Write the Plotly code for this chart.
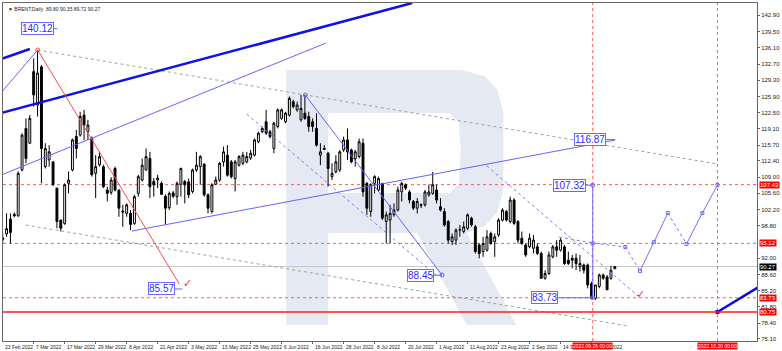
import plotly.graph_objects as go

# ---------------- data ----------------
bar_index = list(range(159))
open_ = [95.9,97.1,100.2,101.2,100.9,110.5,119.2,116.1,131.1,124.1,132.1,111.2,112.6,112.2,106.7,100.0,99.3,107.7,110.5,117.5,
         117.8,122.0,118.5,117.1,109.8,111.6,111.2,106.3,105.8,110.8,106.3,101.9,101.4,101.4,99.3,105.6,108.4,110.5,112.9,108.1,
         108.4,107.7,105.0,102.6,105.7,104.9,107.5,108.1,108.0,106.0,110.5,111.2,111.7,105.3,101.8,107.5,108.4,112.2,113.6,112.2,
         108.7,111.5,111.9,112.2,113.0,113.6,116.4,118.5,120.6,118.5,115.0,119.6,121.3,120.6,122.0,124.8,123.1,121.0,122.4,121.7,
         120.6,119.2,113.6,114.8,114.0,109.1,110.1,110.5,114.7,116.8,114.7,112.9,113.3,116.1,107.7,101.8,107.7,106.3,107.7,99.7,
         100.0,101.1,102.1,105.9,107.4,105.9,103.9,102.5,103.1,103.2,105.3,105.6,106.3,102.8,101.8,99.7,95.5,95.8,97.9,97.6,
         98.3,100.4,98.6,94.8,93.4,93.7,97.2,95.5,96.9,100.0,101.8,99.7,104.2,99.7,96.2,94.8,94.4,94.1,94.4,93.0,
         87.8,88.8,92.3,94.4,93.7,94.4,91.6,92.0,92.0,90.2,90.6,90.6,86.7,83.6,86.1,88.5,88.1,87.8,89.80]
high_ = [97.3,101.4,101.4,101.6,110.2,118.2,121.3,122.0,133.9,135.6,132.5,116.1,115.7,112.2,106.7,100.0,107.7,110.2,117.1,118.9,
         122.7,123.1,121.0,117.5,113.6,114.3,111.6,107.0,109.0,111.2,106.4,103.2,103.5,102.1,105.3,109.5,112.9,115.0,114.3,108.8,
         109.5,108.1,105.4,106.0,106.1,108.1,111.0,108.4,108.7,110.8,114.3,113.6,111.9,105.6,107.7,109.1,112.2,115.4,115.7,112.6,
         112.6,113.6,114.3,114.3,114.7,117.1,118.5,119.6,123.1,118.9,120.6,123.4,123.4,122.7,125.9,125.2,124.8,126.2,126.2,122.7,
         121.3,122.4,116.1,115.7,114.3,111.9,113.6,114.7,117.5,119.2,115.0,114.7,117.1,117.1,108.0,107.7,109.4,109.1,107.7,101.8,
         103.2,103.5,107.0,108.0,107.7,106.3,104.2,104.6,103.5,106.3,107.4,110.1,107.4,104.6,102.5,100.0,97.2,98.3,99.0,99.7,
         101.4,100.7,99.0,95.1,96.5,97.9,97.6,97.2,100.4,102.5,102.1,104.9,104.6,100.0,97.6,95.1,97.2,96.9,95.1,93.4,
         89.5,93.4,94.8,95.8,96.2,94.8,93.4,92.7,93.0,92.7,90.9,90.9,87.1,86.4,88.8,88.8,88.5,90.4,90.35]
low_ = [95.1,96.5,95.1,100.6,100.7,110.2,111.9,116.0,123.8,121.7,107.7,110.8,111.2,107.2,98.3,97.6,99.0,105.6,110.2,112.9,
        117.5,116.8,116.8,109.1,104.6,111.2,106.7,103.9,105.3,106.0,100.7,98.6,100.7,97.9,99.0,104.9,108.1,110.4,104.6,104.9,
        106.7,105.3,99.1,102.1,104.6,103.2,104.9,103.5,104.6,105.6,110.1,107.4,104.9,101.4,101.4,107.4,108.0,111.2,109.1,108.7,
        106.0,111.2,111.5,111.9,112.6,113.3,116.1,118.2,117.8,117.1,114.0,119.2,121.0,120.3,121.7,123.4,122.7,120.6,121.0,118.5,
        118.5,115.4,111.5,114.7,107.0,108.4,109.8,110.1,114.3,112.6,111.9,111.2,112.9,104.9,101.1,100.7,105.6,105.9,100.0,95.1,
        95.1,100.7,101.8,103.9,106.3,103.5,102.1,101.4,102.5,102.8,104.9,105.3,103.5,101.8,98.6,95.1,94.8,94.8,96.5,97.2,
        97.9,98.6,93.0,92.0,92.3,93.4,94.8,92.3,96.5,99.7,99.7,99.3,99.0,95.1,94.8,92.3,94.1,93.0,92.7,87.8,
        87.5,88.5,92.0,92.3,93.4,90.6,90.6,89.9,89.5,89.2,88.8,85.7,83.4,83.3,85.7,87.5,85.4,87.5,89.72]
close_ = [96.3,98.2,97.4,100.9,109.8,117.8,112.9,121.3,126.2,130.8,115.0,115.0,114.3,107.4,99.7,98.3,107.4,108.4,116.8,115.0,
          121.7,119.9,119.9,109.5,111.2,113.3,107.0,105.6,108.4,106.3,102.5,101.7,103.2,99.1,104.9,109.1,111.5,113.3,107.0,107.4,
          108.8,105.4,102.5,105.6,105.0,107.7,110.8,107.4,105.3,110.5,111.5,113.3,105.3,102.5,107.4,108.4,111.9,114.3,109.4,109.1,
          112.2,113.3,113.6,113.3,114.0,116.8,118.2,119.2,118.2,117.5,120.3,123.1,123.1,122.4,125.5,123.8,124.1,123.4,121.3,119.6,
          119.6,115.7,114.3,115.0,110.8,109.8,112.2,114.3,116.8,114.3,112.2,114.3,116.4,105.9,102.5,107.4,109.1,108.7,100.4,101.1,
          101.4,102.1,106.3,107.7,106.7,104.2,102.5,103.9,103.2,105.9,105.9,107.4,104.2,102.1,99.0,95.8,96.5,97.9,98.0,98.6,
          101.1,99.0,93.4,93.0,95.1,96.5,95.1,96.5,100.0,102.1,100.0,104.2,99.3,95.8,95.1,92.7,96.2,95.8,93.0,87.8,
          88.8,92.7,94.4,93.7,95.8,90.9,90.9,91.6,90.9,90.9,89.5,86.4,83.6,86.4,88.5,87.8,85.4,89.5,90.27]

tick_bars = [0, 8, 16, 24, 32, 40, 48, 56, 64, 72, 80, 88, 96, 104, 112, 120, 128, 136, 144, 152]
tick_labels = ["23 Feb 2022", "7 Mar 2022", "17 Mar 2022", "29 Mar 2022", "8 Apr 2022", "21 Apr 2022",
               "3 May 2022", "13 May 2022", "25 May 2022", "6 Jun 2022", "16 Jun 2022", "28 Jun 2022",
               "8 Jul 2022", "20 Jul 2022", "1 Aug 2022", "11 Aug 2022", "23 Aug 2022", "2 Sep 2022",
               "14 Sep 2022", "26 Sep 2022"]
y_ticks = [142.90, 139.50, 136.10, 132.70, 129.30, 125.90, 122.50, 119.10, 115.70, 112.40, 109.00,
           105.60, 102.20, 98.80, 92.00, 88.60, 85.20, 81.80, 78.40, 75.10]

red_dotted_levels = [107.43, 95.12, 83.73]
red_solid_level = 80.75
last_price = 90.27
vline_bars = [152.3, 184.5]
vline_labels = ["2022.09.26 00:00", "2022.10.20 00:00"]

# analysis drawings (bar index, price)
thick_lines = [([-0.5, 7.0], [133.7, 135.85]), ([-0.5, 105.7], [122.4, 145.48])]
thin_lines = [([-0.5, 9.03], [126.6, 135.63]), ([-0.5, 83.45], [109.4, 137.1]),
              ([33.3, 158.1], [97.7, 116.78]), ([78.1, 113.4], [126.2, 88.49])]
red_line = ([9.03, 45.6], [135.63, 86.61])
gray_dotted = [([9.03, 184.5], [135.63, 111.75]), ([5.96, 161.5], [98.97, 77.81])]
dashed_blue = [([63.0, 112.1], [122.2, 88.28]), ([124.9, 164.0], [111.4, 84.1]),
               ([143.6, 152.3, 160.7], [96.45, 95.2, 94.36])]
forecast_bars = [160.7, 164.5, 168.1, 171.7, 176.5, 180.6, 184.5]
forecast_prices = [94.36, 89.33, 95.41, 101.48, 94.99, 101.48, 107.35]
target_bar = 152.3
target_prices = [107.32, 95.12, 83.73]
future_bar_line = ([184.5, 196.0], [80.75, 86.4])

labels = [("140.12", 8.9, 140.12, 14.1), ("85.57", 41.1, 85.57, 46.4), ("88.45", 107.9, 88.45, 113.4),
          ("116.87", 151.6, 116.87, 158.1), ("107.32", 146.4, 107.32, 152.3), ("83.73", 139.9, 83.73, 152.3)]
checks = [(47.6, 86.8), (164.5, 84.5)]

# ---------------- figure ----------------
W, H = 782, 351
L, R, T, B = 2, 19, 3, 10
X_RANGE = [0.08, 194.7]
Y_RANGE = [74.67, 145.48]

def px(x, y):
    return (x - L) / (W - L - R), 1 - (y - T) / (H - T - B)

fig = go.Figure()

# watermark "R"
wm = "#e4e9f3"
def path(points):
    s = ""
    for i, (x, y) in enumerate(points):
        xx, yy = px(x, y)
        s += ("M" if i == 0 else "L") + f"{xx:.4f},{yy:.4f} "
    return s + "Z"

fig.add_shape(type="path", xref="paper", yref="paper", layer="below", line_width=0, fillcolor=wm,
              path=path([(288, 70), (465, 70), (488, 76), (501, 90), (507, 112), (507, 190), (501, 212),
                         (488, 226), (470, 233), (470, 233), (520, 325), (470, 325), (420, 233), (330, 233),
                         (330, 325), (288, 325)]))
fig.add_shape(type="path", xref="paper", yref="paper", layer="below", line_width=0, fillcolor="white",
              path=path([(330, 113), (453, 113), (462, 122), (464, 150), (462, 184), (453, 193), (330, 193)]))

# levels
for lv in red_dotted_levels:
    fig.add_hline(y=lv, line=dict(color="#ff5a5a", width=1, dash="dot"), layer="below")
fig.add_hline(y=last_price, line=dict(color="#c8c8c8", width=1), layer="below")
for vb in vline_bars:
    fig.add_vline(x=vb, line=dict(color="#ff5a5a", width=1, dash="dot"), layer="below")

# drawings under candles
for xs, ys in gray_dotted:
    fig.add_trace(go.Scatter(x=xs, y=ys, mode="lines", line=dict(color="#9aa59a", width=1, dash="dot"),
                             hoverinfo="skip", showlegend=False))
for xs, ys in dashed_blue:
    fig.add_trace(go.Scatter(x=xs, y=ys, mode="lines", line=dict(color="#7b7bff", width=1, dash="dot"),
                             hoverinfo="skip", showlegend=False))

# candles
fig.add_trace(go.Candlestick(x=bar_index, open=open_, high=high_, low=low_, close=close_,
                             increasing=dict(line=dict(color="#000000", width=1), fillcolor="#ffffff"),
                             decreasing=dict(line=dict(color="#000000", width=1), fillcolor="#000000"),
                             whiskerwidth=0, showlegend=False, hoverinfo="skip"))

fig.add_hline(y=red_solid_level, line=dict(color="#ff1a1a", width=1.5))

for xs, ys in thick_lines:
    fig.add_trace(go.Scatter(x=xs, y=ys, mode="lines", line=dict(color="#1010e8", width=2.5),
                             hoverinfo="skip", showlegend=False))
for xs, ys in thin_lines:
    fig.add_trace(go.Scatter(x=xs, y=ys, mode="lines", line=dict(color="#6464ff", width=1),
                             hoverinfo="skip", showlegend=False))
fig.add_trace(go.Scatter(x=[thin_lines[3][0][0], thin_lines[3][0][1]], y=[thin_lines[3][1][0], thin_lines[3][1][1]],
                         mode="markers", marker=dict(symbol="circle-open", size=4, color="#6464ff"),
                         hoverinfo="skip", showlegend=False))
fig.add_trace(go.Scatter(x=red_line[0], y=red_line[1], mode="lines", line=dict(color="#ff4c4c", width=1),
                         hoverinfo="skip", showlegend=False))
fig.add_trace(go.Scatter(x=[red_line[0][0]], y=[red_line[1][0]], mode="markers",
                         marker=dict(symbol="circle-open", size=4, color="#ff4c4c"), hoverinfo="skip", showlegend=False))

# forecast path
fc_style = ["dot", "solid", "solid", "dot", "solid", "solid"]
for i in range(len(forecast_bars) - 1):
    fig.add_trace(go.Scatter(x=forecast_bars[i:i + 2], y=forecast_prices[i:i + 2], mode="lines",
                             line=dict(color="#7070ff", width=1, dash=fc_style[i]),
                             hoverinfo="skip", showlegend=False))
fig.add_trace(go.Scatter(x=forecast_bars, y=forecast_prices, mode="markers",
                         marker=dict(symbol="square-open", size=3, color="#7070ff"), hoverinfo="skip", showlegend=False))
fig.add_trace(go.Scatter(x=[target_bar, target_bar], y=[target_prices[0], target_prices[-1]], mode="lines",
                         line=dict(color="#7070ff", width=1), hoverinfo="skip", showlegend=False))
fig.add_trace(go.Scatter(x=[target_bar] * 3, y=target_prices, mode="markers",
                         marker=dict(symbol="circle-open", size=4, color="#7070ff"), hoverinfo="skip", showlegend=False))
fig.add_trace(go.Scatter(x=future_bar_line[0], y=future_bar_line[1], mode="lines",
                         line=dict(color="#0a0ae0", width=2.5), hoverinfo="skip", showlegend=False))
fig.add_trace(go.Scatter(x=[future_bar_line[0][0]], y=[future_bar_line[1][0]], mode="markers",
                         marker=dict(symbol="square", size=4, color="#0a0ae0"), hoverinfo="skip", showlegend=False))

annotations = []
for text, xb, yp, xend in labels:
    fig.add_trace(go.Scatter(x=[xb, xend], y=[yp, yp], mode="lines", line=dict(color="#6464ff", width=1),
                             hoverinfo="skip", showlegend=False))
    annotations.append(dict(x=xb, y=yp, xref="x", yref="y", text=text, showarrow=False,
                            font=dict(family="Liberation Sans, Arial", size=10, color="#2a2aff"),
                            bgcolor="white", bordercolor="#6a6aff", borderwidth=1, borderpad=0))
for cx, cy in checks:
    annotations.append(dict(x=cx, y=cy, xref="x", yref="y", text="✓", showarrow=False,
                            font=dict(family="DejaVu Sans", size=11, color="#ff3030")))

# x tick labels (left-aligned like MT4)
for tb, tl in zip(tick_bars, tick_labels):
    annotations.append(dict(x=max(tb, X_RANGE[0]), y=0, xref="x", yref="paper", yanchor="top", xanchor="left",
                            text=tl, showarrow=False, yshift=-1,
                            font=dict(family="Liberation Sans, Arial", size=5, color="#222")))
for vb, vl in zip(vline_bars, vline_labels):
    annotations.append(dict(x=vb, y=0, xref="x", yref="paper", yanchor="top", xanchor="center", text=vl,
                            showarrow=False, yshift=-1, bgcolor="#ff0000", borderpad=0,
                            font=dict(family="Liberation Sans, Arial", size=5, color="white")))
# right axis boxes
for lv in red_dotted_levels + [red_solid_level]:
    annotations.append(dict(x=1, y=lv, xref="paper", yref="y", xanchor="left", text=f"{lv:.2f}", showarrow=False,
                            xshift=2, bgcolor="#ff0000", borderpad=0,
                            font=dict(family="Liberation Sans, Arial", size=6, color="white")))
annotations.append(dict(x=1, y=last_price, xref="paper", yref="y", xanchor="left", text=f"{last_price:.2f}",
                        showarrow=False, xshift=2, bgcolor="#000000", borderpad=0,
                        font=dict(family="Liberation Sans, Arial", size=6, color="white")))
annotations.append(dict(x=0, y=1, xref="paper", yref="paper", xanchor="left", yanchor="top",
                        text="▼ BRENT,Daily  89.80 90.35 89.72 90.27", showarrow=False, xshift=3, yshift=-1,
                        font=dict(family="Liberation Sans, Arial", size=5, color="#222")))

fig.update_layout(
    width=W, height=H, margin=dict(l=L, r=R, t=T, b=B),
    paper_bgcolor="white", plot_bgcolor="white", showlegend=False,
    annotations=annotations,
    xaxis=dict(range=X_RANGE, showgrid=False, zeroline=False, showline=True, mirror=True, linecolor="#666",
               linewidth=1, tickvals=tick_bars, ticks="outside", ticklen=2, tickcolor="#666",
               showticklabels=False, rangeslider=dict(visible=False)),
    yaxis=dict(range=Y_RANGE, side="right", showgrid=False, zeroline=False, showline=True, mirror=True,
               linecolor="#666", linewidth=1, tickvals=y_ticks, ticktext=[f"{v:.2f}" for v in y_ticks],
               ticks="outside", ticklen=2, tickcolor="#666",
               tickfont=dict(family="Liberation Sans, Arial", size=6, color="#222")),
)

fig.write_html("out.html")
